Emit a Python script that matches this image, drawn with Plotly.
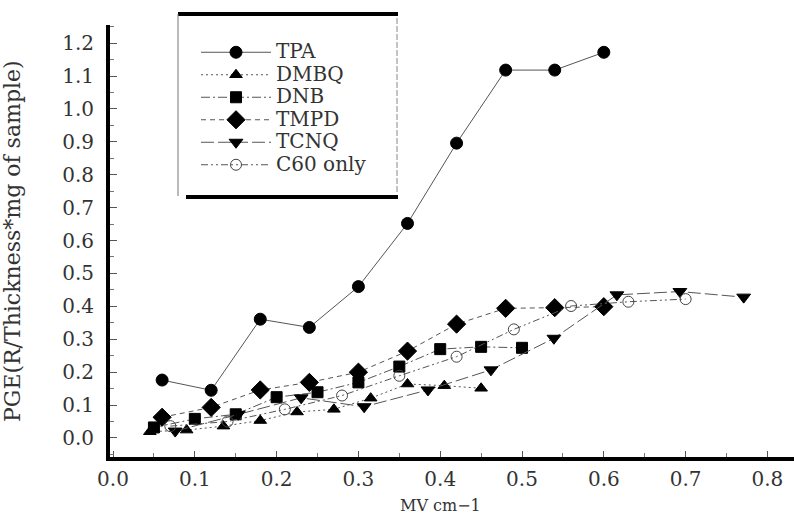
import plotly.graph_objects as go

# ---------------- data ----------------
tpa_x = [0.06, 0.12, 0.18, 0.24, 0.30, 0.36, 0.42, 0.48, 0.54, 0.60]
tpa_y = [0.176, 0.145, 0.361, 0.336, 0.460, 0.652, 0.896, 1.118, 1.118, 1.172]

dmbq_x = [0.045, 0.09, 0.135, 0.18, 0.225, 0.27, 0.315, 0.36, 0.405, 0.45]
dmbq_y = [0.019, 0.024, 0.036, 0.053, 0.079, 0.087, 0.121, 0.164, 0.159, 0.151]

dnb_x = [0.05, 0.10, 0.15, 0.20, 0.25, 0.30, 0.35, 0.40, 0.45, 0.50]
dnb_y = [0.032, 0.058, 0.072, 0.124, 0.139, 0.169, 0.217, 0.270, 0.277, 0.274]

tmpd_x = [0.06, 0.12, 0.18, 0.24, 0.30, 0.36, 0.42, 0.48, 0.54, 0.60]
tmpd_y = [0.063, 0.093, 0.146, 0.169, 0.200, 0.264, 0.346, 0.394, 0.396, 0.399]

tcnq_x = [0.076, 0.153, 0.23, 0.307, 0.385, 0.462, 0.539, 0.616, 0.693, 0.771]
tcnq_y = [0.021, 0.072, 0.122, 0.095, 0.146, 0.207, 0.303, 0.435, 0.445, 0.428]

c60_x = [0.07, 0.14, 0.21, 0.28, 0.35, 0.42, 0.49, 0.56, 0.63, 0.70]
c60_y = [0.036, 0.050, 0.087, 0.129, 0.189, 0.247, 0.330, 0.401, 0.414, 0.422]

x_ticks = [0.0, 0.1, 0.2, 0.3, 0.4, 0.5, 0.6, 0.7, 0.8]
y_ticks = [round(0.1 * i, 1) for i in range(13)]

FONT = "DejaVu Serif"
TXT = "#333333"
LINE = "#555555"

series = [
    ("TPA", tpa_x, tpa_y, "circle", 12, "solid", "black"),
    ("DMBQ", dmbq_x, dmbq_y, "triangle-up", 11, "2px,3px", "black"),
    ("DNB", dnb_x, dnb_y, "square", 11, "9px,3px,2px,3px", "black"),
    ("TMPD", tmpd_x, tmpd_y, "diamond", 14, "5px,4px", "black"),
    ("TCNQ", tcnq_x, tcnq_y, "triangle-down", 12, "13px,4px", "black"),
    ("C60 only", c60_x, c60_y, "circle-open", 11, "7px,3px,2px,3px,2px,3px", "#444444"),
]

fig = go.Figure()
for name, xs, ys, sym, size, dash, mcol in series:
    fig.add_trace(go.Scatter(
        x=xs, y=ys, mode="lines+markers",
        name='<span style="font-size:20px">' + name + '</span>',
        line=dict(color=LINE, width=1, dash=dash),
        marker=dict(symbol=sym, size=size, color=mcol,
                    line=dict(color=mcol, width=1)),
    ))

W, H = 794, 521
L, R, T, B = 110, 0, 25, 64
PW, PH = W - L - R, H - T - B


def px(xp):
    return (xp - L) / PW


def py(yp):
    return (H - B - yp) / PH


shapes = [
    dict(type="line", xref="paper", yref="paper", x0=px(178), x1=px(398),
         y0=py(14), y1=py(14), line=dict(color="black", width=4)),
    dict(type="line", xref="paper", yref="paper", x0=px(186), x1=px(398),
         y0=py(197), y1=py(197), line=dict(color="black", width=4)),
    dict(type="line", xref="paper", yref="paper", x0=px(178), x1=px(178),
         y0=py(14), y1=py(196), line=dict(color="#777777", width=1)),
    dict(type="line", xref="paper", yref="paper", x0=px(397), x1=px(397),
         y0=py(18), y1=py(193), line=dict(color="#888888", width=1, dash="6px,2px")),
]

tickfont = dict(family=FONT, size=20, color=TXT)

fig.update_layout(
    width=W, height=H,
    margin=dict(l=L, r=R, t=T, b=B, autoexpand=False),
    paper_bgcolor="white", plot_bgcolor="white",
    font=dict(family=FONT, size=18, color=TXT),
    showlegend=True,
    legend=dict(x=px(196), y=py(36), xanchor="left", yanchor="top",
                bgcolor="rgba(0,0,0,0)", borderwidth=0, itemwidth=70,
                tracegroupgap=0, font=dict(family=FONT, size=15, color=TXT)),
    shapes=shapes,
    xaxis=dict(range=[-0.0037, 0.8325], tickvals=x_ticks, tickformat=".1f",
               showgrid=False, zeroline=False, showline=True, linecolor="black",
               linewidth=4, ticks="inside", ticklen=6, tickwidth=1, tickcolor="#555555",
               minor=dict(ticks="inside", ticklen=4, dtick=0.05, tick0=0, tickcolor="#777777"),
               tickfont=tickfont, ticklabelstandoff=1, automargin=False),
    yaxis=dict(range=[-0.0578, 1.255], tickvals=y_ticks, tickformat=".1f",
               showgrid=False, zeroline=False, showline=True, linecolor="black",
               linewidth=4, ticks="inside", ticklen=7, tickwidth=1, tickcolor="#555555",
               minor=dict(ticks="inside", ticklen=4, dtick=0.05, tick0=0, tickcolor="#777777"),
               tickfont=tickfont, ticklabelstandoff=8, automargin=False),
    annotations=[
        dict(text="MV cm\u22121", xref="paper", yref="paper", x=px(440), y=py(505),
             showarrow=False, xanchor="center", yanchor="middle",
             font=dict(family=FONT, size=16, color=TXT)),
        dict(text="PGE(R/Thickness*mg of sample)", xref="paper", yref="paper",
             x=px(12), y=py(241), textangle=-90, showarrow=False,
             xanchor="center", yanchor="middle",
             font=dict(family=FONT, size=22, color=TXT)),
    ],
)

fig.write_html("out.html", config={"displayModeBar": False},
               post_script="document.body.style.margin='0';")
